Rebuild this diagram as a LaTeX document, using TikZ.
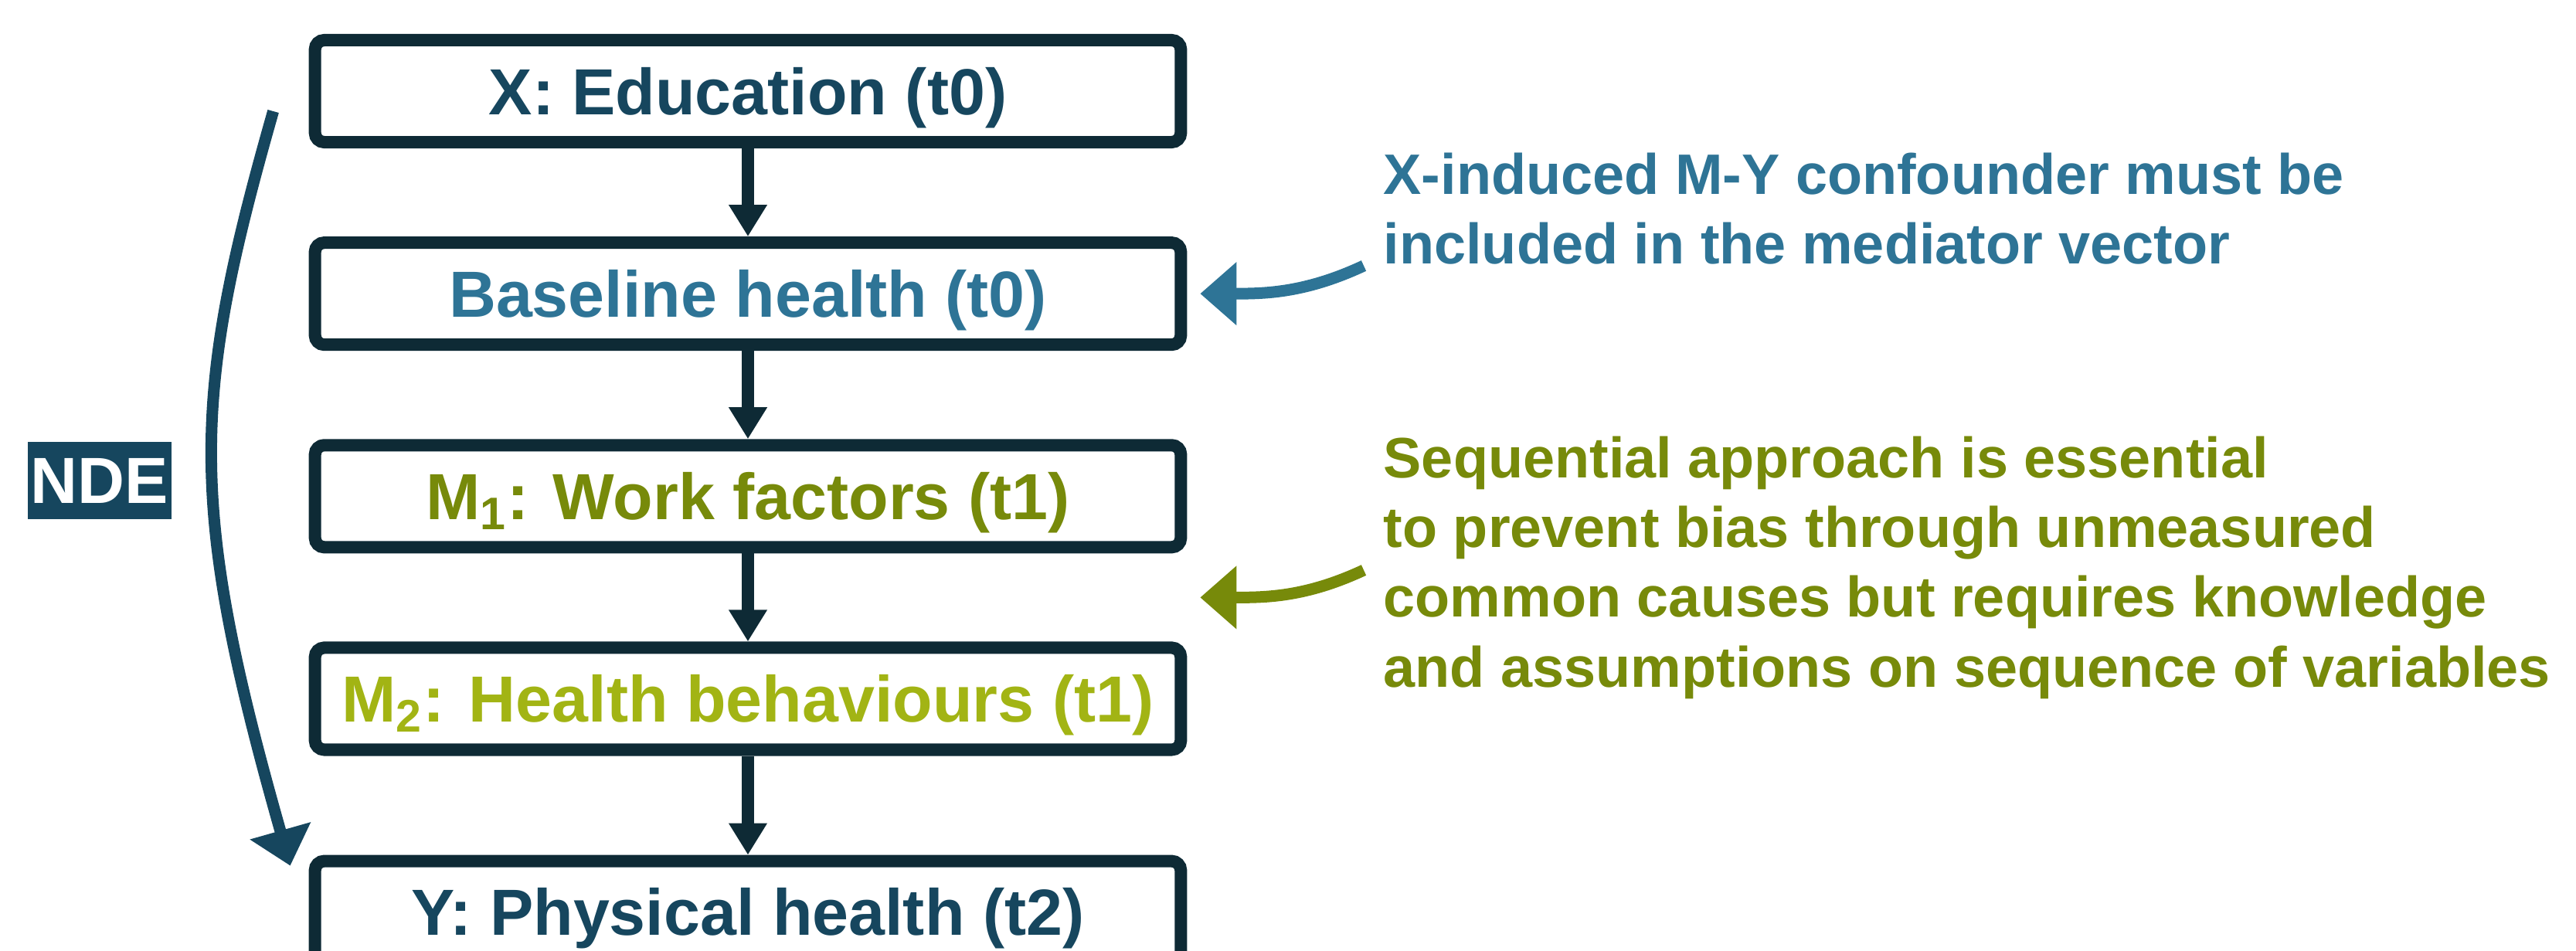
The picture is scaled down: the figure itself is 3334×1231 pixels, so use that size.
\documentclass[tikz,border=0pt]{standalone}
\usepackage{fontspec}
\setmainfont{Liberation Sans}
\usepackage{xcolor}
\usepackage{tikz}
\usetikzlibrary{arrows.meta, positioning, calc}

\definecolor{boxline}{HTML}{0E2A35}
\definecolor{darkteal}{HTML}{16465E}
\definecolor{midblue}{HTML}{2E7496}
\definecolor{workolive}{HTML}{778A0A}
\definecolor{behavlime}{HTML}{A2B414}

\begin{document}
\begin{tikzpicture}[x=0.01cm, y=-0.01cm, node distance=1.14cm,
  varbox/.style={draw=boxline, line width=0.16cm, rounded corners=0.12cm,
    minimum width=11.2cm, minimum height=1.32cm, inner sep=0,
    text height=23.2pt, text depth=6pt,
    font=\fontsize{24}{28}\selectfont\bfseries},
  flow/.style={draw=boxline, line width=0.16cm, -{Triangle[length=0.41cm,width=0.47cm]}},
  note/.style={anchor=base west, align=left, inner sep=0,
    font=\fontsize{21}{25.6}\selectfont\bfseries},
  pointer/.style={line width=0.15cm, -{Triangle[length=0.47cm,width=0.79cm]}}]
\useasboundingbox (0,0) rectangle (3334,1231);

% chain of variables
\node[varbox, text=darkteal] (x) at (968,118) {X: Education (t0)};
\node[varbox, text=midblue, below=of x] (base) {Baseline health (t0)};
\node[varbox, text=workolive, below=of base] (m1) {M\textsubscript{1}: Work factors (t1)};
\node[varbox, text=behavlime, below=of m1] (m2) {M\textsubscript{2}: Health behaviours (t1)};
\node[varbox, text=darkteal, below=1.28cm of m2] (y) {Y: Physical health (t2)};

\foreach \a/\b in {x/base, base/m1, m1/m2, m2/y}
  \draw[flow] (\a) -- (\b);

% direct effect
\node[fill=darkteal, text=white, minimum width=1.86cm, minimum height=0.99cm, inner sep=0,
  font=\fontsize{24}{28}\selectfont\bfseries] (nde) at (129,622) {NDE};
\coordinate (nde start) at ([xshift=-0.46cm, yshift=-0.26cm]x.west);
\coordinate (nde end) at ([xshift=-0.24cm, yshift=-0.14cm]y.north west);
\draw[pointer, darkteal] (nde start) .. controls (248,515) and (242,650) .. (nde end);

% remarks (anchored on the last line)
\node[note, text=midblue] (note1) at (1790,342)
  {X-induced M-Y confounder must be\\included in the mediator vector};
\node[note, text=workolive] (note2) at (1790,889)
  {Sequential approach is essential\\to prevent bias through unmeasured\\common causes but requires knowledge\\and assumptions on sequence of variables};

\coordinate (hint1) at (1765,344);
\coordinate (hint2) at (1765,738);
\draw[pointer, midblue] (hint1) to[out=205, in=0] ([xshift=0.17cm]base.east);
\draw[pointer, workolive] (hint2) to[out=205, in=0] ([xshift=0.17cm]$(m1.east)!0.5!(m2.east)$);
\end{tikzpicture}
\end{document}
